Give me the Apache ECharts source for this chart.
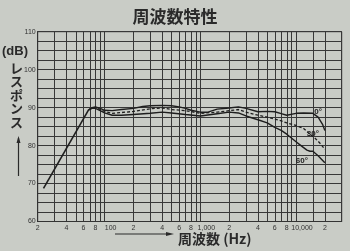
<!DOCTYPE html>
<html><head><meta charset="utf-8">
<script src="https://cdn.jsdelivr.net/npm/echarts@6/dist/echarts.min.js"></script>
<style>html,body{margin:0;padding:0;background:#c9ccc6}#c{width:350px;height:251px}</style>
</head><body><div id="c"></div>
<script>
// Frequency response data (Hz, dB)
const riseFreq = [23, 68];
const riseDb = [68.7, 89.4];

const freq0 = [68, 74, 80, 90, 100, 120, 150, 200, 250, 300, 400, 500, 600, 700, 800, 1000, 1200, 1500, 2000, 2500, 3000, 4000, 5000, 6000, 7000, 8000, 10000, 12000, 15000, 17000, 19000, 20000];
const db0 = [89.4, 90.0, 90.2, 89.8, 89.3, 89.2, 89.5, 89.8, 90.3, 90.5, 90.6, 90.5, 90.2, 89.8, 89.3, 88.8, 88.8, 89.6, 89.9, 90.2, 89.8, 88.9, 89.0, 88.9, 88.4, 88.0, 88.5, 88.6, 88.5, 87.5, 85.5, 84.0];

const freq30 = [68, 74, 80, 90, 100, 120, 150, 200, 300, 400, 500, 700, 1000, 1500, 2000, 2500, 3000, 4000, 5000, 6000, 7000, 8000, 10000, 12000, 14000, 16000, 18000, 20000];
const db30 = [89.4, 89.9, 90.0, 89.5, 89.0, 88.5, 88.7, 89.0, 89.7, 89.9, 89.5, 89.2, 88.5, 88.8, 89.2, 89.5, 88.8, 88.0, 87.5, 87.0, 86.5, 86.0, 85.3, 84.5, 83.0, 81.8, 80.5, 79.0];

const freq60 = [68, 74, 80, 90, 100, 120, 150, 200, 300, 400, 500, 700, 1000, 1500, 2000, 2500, 3000, 4000, 5000, 6000, 7000, 8000, 10000, 11000, 13000, 14000, 15000, 17000, 20000];
const db60 = [89.4, 89.8, 89.8, 89.2, 88.6, 88.0, 88.0, 88.2, 88.5, 88.8, 88.6, 88.2, 87.8, 88.4, 88.8, 88.6, 87.8, 86.8, 86.0, 84.8, 84.0, 83.0, 81.0, 80.2, 78.8, 78.5, 78.5, 77.3, 75.5];

// Axis ticks / labels
const gridFreqs = [20,30,40,50,60,70,80,90,100,200,300,400,500,600,700,800,900,1000,2000,3000,4000,5000,6000,7000,8000,9000,10000,15000,20000,30000];
const labelFreqs = [20,40,60,80,100,200,400,600,800,1000,2000,4000,6000,8000,10000,20000];
const labelText = ['2','4','6','8','100','2','4','6','8','1,000','2','4','6','8','10,000','2'];
const yLabels = [60,70,80,90,100,110];

// Angle labels
const angleNames = ['0°','30°','60°'];
const anglePos = [[17000, 88.8],[15000, 83.0],[11500, 76.1]];

const zip = (a,b) => a.map((v,i)=>[v,b[i]]);
const lineColor = '#1e1e1e';
const chart = echarts.init(document.getElementById('c'), null, {renderer:'canvas'});
const labelRich = {
  n: {fontSize: 7, color: '#333', fontFamily: 'Liberation Sans'},
  w: {fontSize: 7, color: '#333', fontFamily: 'Liberation Sans', padding: [0,0,0,12]}
};
chart.setOption({
  backgroundColor: '#c9ccc6',
  animation: false,
  title: {
    text: '周波数特性', left: 'center', top: 3,
    textStyle: {fontSize: 17, fontWeight: 'bold', color: '#2a2a2a', fontFamily: 'Noto Sans CJK JP'}
  },
  grid: {left: 37.7, right: 8.3, top: 31.7, bottom: 29.5, show: true, borderColor: '#333', borderWidth: 1, backgroundColor: 'transparent'},
  xAxis: {
    type: 'log', logBase: 10, min: 20, max: 30000,
    axisLine: {show: true, lineStyle: {color: '#333', width: 1}},
    axisTick: {show: false, customValues: gridFreqs},
    splitLine: {show: true, lineStyle: {color: '#383838', width: 1}},
    minorSplitLine: {show: false},
    axisLabel: {
      customValues: labelFreqs, margin: 3,
      formatter: function(v){
        const i = labelFreqs.indexOf(Math.round(v));
        const t = i >= 0 ? labelText[i] : '';
        return t.length > 1 ? '{w|' + t + '}' : '{n|' + t + '}';
      },
      rich: labelRich
    }
  },
  yAxis: {
    type: 'value', min: 60, max: 110, interval: 2.5,
    axisLine: {show: true, lineStyle: {color: '#333', width: 1}},
    axisTick: {show: false},
    splitLine: {show: true, lineStyle: {color: '#383838', width: 1}},
    axisLabel: {
      customValues: yLabels, margin: 2, fontSize: 7, color: '#333', fontFamily: 'Liberation Sans'
    }
  },
  graphic: [
    {type: 'text', left: 2, top: 45, style: {text: '(dB)', fontSize: 13, fontWeight: 'bold', fill: '#2a2a2a', fontFamily: 'Liberation Sans'}},
    {type: 'text', left: 10, top: 61, style: {text: 'レ\nス\nポ\nン\nス', fontSize: 13, lineHeight: 13.5, fontWeight: 'bold', fill: '#2a2a2a', fontFamily: 'Noto Sans CJK JP', align: 'left'}},
    {type: 'line', shape: {x1: 18.5, y1: 176, x2: 18.5, y2: 138}, style: {stroke: '#2a2a2a', lineWidth: 1.2}},
    {type: 'polygon', shape: {points: [[16.5, 143], [18.5, 136], [20.5, 143]]}, style: {fill: '#2a2a2a'}},
    {type: 'line', shape: {x1: 115, y1: 234, x2: 170, y2: 234}, style: {stroke: '#2a2a2a', lineWidth: 1.2}},
    {type: 'polygon', shape: {points: [[166, 232], [174, 234], [166, 236]]}, style: {fill: '#2a2a2a'}},
    {type: 'text', left: 178, top: 232, style: {text: '周波数 (Hz)', fontSize: 14, fontWeight: 'bold', fill: '#2a2a2a', fontFamily: 'Noto Sans CJK JP'}}
  ],
  series: [
    {type: 'line', data: zip(riseFreq, riseDb), symbol: 'none', lineStyle: {color: lineColor, width: 1.6}},
    {type: 'line', data: zip(freq0, db0), symbol: 'none', lineStyle: {color: lineColor, width: 1.4},
      markPoint: {symbol: 'circle', symbolSize: 0, data: [{coord: anglePos[0], label: {show: true, formatter: angleNames[0], fontSize: 8, fontWeight: 'bold', color: '#222', position: 'inside'}}]}},
    {type: 'line', data: zip(freq30, db30), symbol: 'none', lineStyle: {color: lineColor, width: 1.3, type: [3, 2]},
      markPoint: {symbol: 'circle', symbolSize: 0, data: [{coord: anglePos[1], label: {show: true, formatter: angleNames[1], fontSize: 8, fontWeight: 'bold', color: '#222', position: 'inside'}}]}},
    {type: 'line', data: zip(freq60, db60), symbol: 'none', lineStyle: {color: lineColor, width: 1.4},
      markPoint: {symbol: 'circle', symbolSize: 0, data: [{coord: anglePos[2], label: {show: true, formatter: angleNames[2], fontSize: 8, fontWeight: 'bold', color: '#222', position: 'inside'}}]}}
  ]
});
</script></body></html>
